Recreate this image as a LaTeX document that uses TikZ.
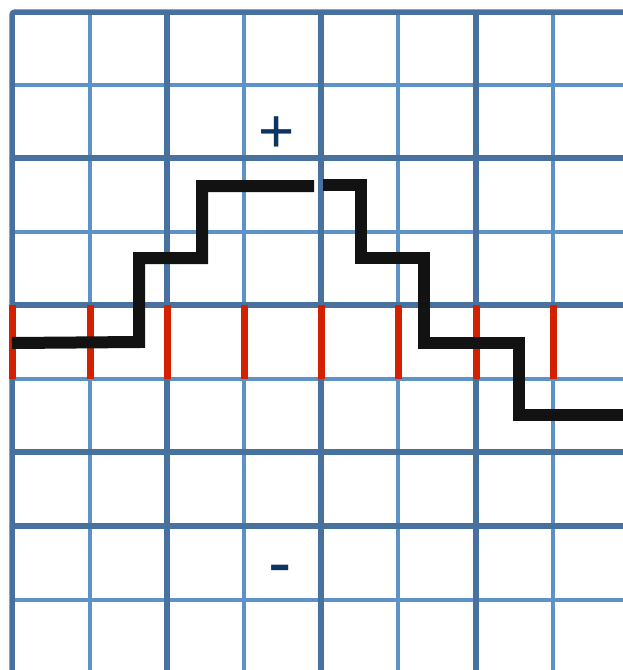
\documentclass[tikz,border=0pt]{standalone}
\usepackage{fontspec}
\setmainfont{Liberation Sans}
\usetikzlibrary{positioning}
\definecolor{gridDark}{RGB}{71,114,160}
\definecolor{gridLight}{RGB}{92,146,200}
\definecolor{cutRed}{RGB}{210,32,0}
\definecolor{signBlue}{RGB}{12,52,99}

\begin{document}
\begin{tikzpicture}[x=1pt,y=-1pt,
    major/.style={draw=gridDark,line width=5.5pt},
    minor/.style={draw=gridLight,line width=4.5pt},
    cut/.style={draw=cutRed,line width=7pt},
    front/.style={draw=black!93,line width=12pt,miter limit=10},
    sign/.style={text=signBlue,inner sep=0pt}]

    \clip (0,0) rectangle (623,670);
    \fill[white] (0,0) rectangle (623,670);

    \foreach \x in {90,244,398,553} \draw[minor] (\x,12) -- (\x,680);
    \foreach \y in {85,232,379,600} \draw[minor] (12,\y) -- (640,\y);
    \foreach \x in {167,321,476} \draw[major] (\x,12) -- (\x,680);
    \foreach \y in {158,305,452,526} \draw[major] (12,\y) -- (640,\y);
    \draw[major,rounded corners=3pt] (12,680) -- (12,12) -- (640,12);

    \foreach \x in {12,90,167,244,321,398,476,553} \draw[cut] (\x,305) -- (\x,379);

    \draw[front] (12,343) -- (139,342) -- (139,258) -- (202,258) -- (202,186) -- (314,186);
    \draw[front] (323,185) -- (361,185) -- (361,258) -- (424,258) -- (424,343) -- (519,343) -- (519,415) -- (640,415);

    \node[sign,font=\fontsize{62}{74}\selectfont] (plus) at (277,135) {+};
    \node[sign,font=\fontsize{70}{84}\selectfont] (minus) at (280,576) {-};
\end{tikzpicture}
\end{document}
